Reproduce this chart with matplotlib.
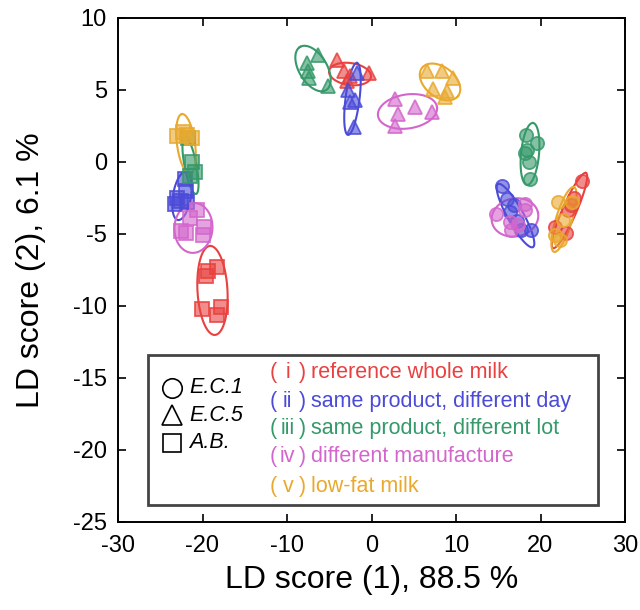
import numpy as np
import matplotlib
matplotlib.use('Agg')
import matplotlib.pyplot as plt
from matplotlib.lines import Line2D
from matplotlib.patches import Rectangle

plt.rcParams['font.family'] = ['Liberation Sans', 'DejaVu Sans']
plt.rcParams['axes.unicode_minus'] = False

# groups: (i) reference, (ii) same day, (iii) same lot, (iv) other manufacture, (v) low-fat
colors = ['#e8413f', '#4b4bd8', '#35996a', '#d366cc', '#e9a92e']
numerals = ['i', 'ii', 'iii', 'iv', 'v']
names = ['reference whole milk', 'same product, different day',
         'same product, different lot', 'different manufacture', 'low-fat milk']

# E.C.1 (circles)
ec1_x = [[24.9, 24.0, 23.3, 23.6, 21.7, 23.0],
         [15.4, 16.9, 16.4, 17.2, 17.7, 18.9, 16.0],
         [18.3, 19.6, 18.4, 18.2, 18.6, 18.8],
         [14.7, 18.2, 18.2, 16.4, 16.5, 17.3],
         [22.1, 22.7, 21.7, 22.3, 23.7]]
ec1_y = [[-1.3, -2.5, -3.3, -3.0, -4.5, -4.9],
         [-1.7, -3.0, -3.5, -4.1, -4.7, -4.7, -2.6],
         [1.9, 1.3, 0.8, 0.6, 0.0, -1.2],
         [-3.6, -2.9, -3.3, -4.2, -4.7, -4.4],
         [-2.8, -4.0, -5.1, -5.4, -2.8]]

# E.C.5 (triangles)
ec5_x = [[-4.1, -3.3, -2.5, -0.3, -2.9],
         [-1.7, -2.8, -2.5, -2.0, -2.1],
         [-7.6, -6.3, -7.5, -7.4, -5.1],
         [2.8, 3.1, 5.1, 7.2, 2.8],
         [6.6, 8.3, 9.6, 7.3, 8.9, 8.7]]
ec5_y = [[7.1, 6.3, 6.0, 6.2, 5.6],
         [6.2, 5.0, 4.2, 4.3, 2.4],
         [6.9, 7.4, 6.3, 5.8, 5.3],
         [4.4, 3.3, 3.8, 3.5, 2.5],
         [6.3, 6.3, 5.8, 5.1, 4.9, 4.5]]

# A.B. (squares)
ab_x = [[-18.3, -19.3, -19.6, -20.1, -17.8, -18.3],
        [-22.1, -22.0, -23.0, -23.3, -21.8, -22.6],
        [-21.7, -21.2, -20.9, -21.5],
        [-20.7, -21.5, -22.5, -22.0, -19.8, -20.0],
        [-23.0, -22.3, -21.8, -21.3]]
ab_y = [[-7.3, -7.6, -7.9, -10.2, -10.1, -10.6],
        [-1.2, -2.0, -2.5, -2.9, -2.8, -2.7],
        [1.7, 0.0, -0.7, -1.0],
        [-3.3, -3.9, -4.8, -4.9, -4.5, -5.1],
        [1.8, 2.1, 1.9, 1.7]]

# ellipses: centre, tip of long axis (data units), short half-axis (px)
ell_c1 = [(23.43, -3.37, 25.38, -0.76, 7), (17.04, -3.72, 14.97, -1.53, 8),
          (18.76, 0.56, 19.11, 2.71, 9), (16.98, -3.85, 19.70, -3.51, 19),
          (22.78, -3.99, 23.96, -1.74, 8)]
ell_c5 = [(-2.54, 6.11, -0.06, 5.90, 11), (-2.25, 4.38, -1.72, 6.88, 7),
          (-6.92, 6.49, -8.46, 7.99, 14), (4.26, 3.51, 7.75, 3.82, 17),
          (8.11, 5.56, 10.24, 4.58, 15)]
ell_ab = [(-18.82, -8.92, -19.11, -5.83, 15), (-22.43, -2.36, -21.95, -0.69, 9),
          (-21.42, -0.24, -22.07, 1.74, 6), (-21.07, -4.58, -20.89, -2.85, 19),
          (-21.95, 1.25, -22.43, 3.33, 9)]

fig = plt.figure(figsize=(6.4, 6.1), dpi=100)
ax = fig.add_axes([118/640, 1-522/610, 507/640, 504/610])
ax.set_xlim(-30, 30)
ax.set_ylim(-25, 10)

# pixels per data unit
p0 = ax.transData.transform((0, 0))
p1 = ax.transData.transform((1, 1))
sx, sy = p1 - p0

t = np.linspace(0, 2*np.pi, 200)
for specs in (ell_c1, ell_c5, ell_ab):
    for (cx, cy, tx, ty, r), col in zip(specs, colors):
        ax_, ay_ = (tx-cx)*sx, (ty-cy)*sy
        L = np.hypot(ax_, ay_)
        bx, by = -ay_/L*r, ax_/L*r
        ex = cx + (ax_*np.cos(t) + bx*np.sin(t))/sx
        ey = cy + (ay_*np.cos(t) + by*np.sin(t))/sy
        ax.plot(ex, ey, color=col, lw=1.5, zorder=2)

for xs, ys, mk, ms in ((ec1_x, ec1_y, 'o', 9.5), (ec5_x, ec5_y, '^', 10.5), (ab_x, ab_y, 's', 9.5)):
    for gx, gy, col in zip(xs, ys, colors):
        ax.plot(gx, gy, ls='none', marker=mk, ms=ms, mfc=matplotlib.colors.to_rgba(col, 0.6),
                mec=matplotlib.colors.to_rgba(col, 0.85), mew=1.3, zorder=3)

ax.set_xticks(np.arange(-30, 31, 10))
ax.set_yticks(np.arange(-25, 11, 5))
ax.tick_params(direction='in', length=6, width=1.2, top=True, right=True, labelsize=17)
ax.tick_params(axis='x', pad=9)
ax.tick_params(axis='y', pad=8)
for s in ax.spines.values():
    s.set_linewidth(1.4)
ax.set_xlabel('LD score (1), 88.5 %', fontsize=23, labelpad=6)
ax.set_ylabel('LD score (2), 6.1 %', fontsize=23, labelpad=19)

# legend box
ax.add_patch(Rectangle((0.059, 0.034), 0.888, 0.297, transform=ax.transAxes,
                       fill=False, ec='#444444', lw=2, zorder=5))
for yy, mk, ms, lab in ((0.266, 'o', 14, 'E.C.1'), (0.212, '^', 15, 'E.C.5'),
                        (0.157, 's', 13, 'A.B.')):
    ax.add_line(Line2D([0.107], [yy], transform=ax.transAxes, marker=mk, ms=ms,
                       mfc='none', mec='black', mew=1.2, ls='none'))
    ax.text(0.140, yy, lab, transform=ax.transAxes, fontsize=15.5, va='center',
            style='italic')
for i, yy in enumerate([0.296, 0.240, 0.185, 0.129, 0.071]):
    kw = dict(transform=ax.transAxes, fontsize=15.5, va='center', color=colors[i])
    ax.text(0.300, yy, '(', ha='left', **kw)
    ax.text(0.335, yy, numerals[i], ha='center', **kw)
    ax.text(0.370, yy, ')', ha='right', **kw)
    ax.text(0.381, yy, names[i], ha='left', **kw)

fig.savefig('out.png', dpi=100)
